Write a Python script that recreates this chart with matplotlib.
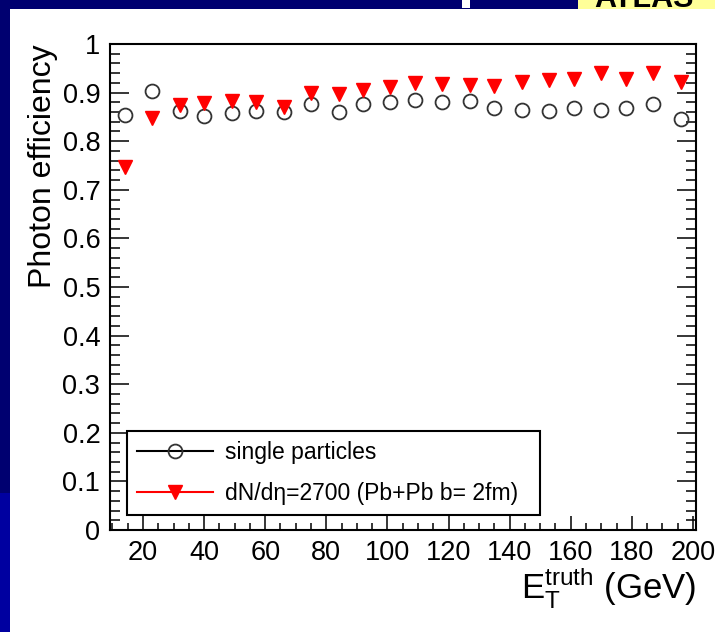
import numpy as np
import matplotlib
matplotlib.use('Agg')
import matplotlib.pyplot as plt
from matplotlib.lines import Line2D
from matplotlib.patches import Rectangle
from matplotlib.ticker import MultipleLocator, FuncFormatter

plt.rcParams['font.family'] = ['Liberation Sans', 'DejaVu Sans']
plt.rcParams['mathtext.fontset'] = 'custom'
plt.rcParams['mathtext.rm'] = 'Liberation Sans'

# E_T^truth bin centres (GeV)
et_truth = [14, 23, 32, 40, 49, 57, 66, 75, 84, 92, 101, 109,
            118, 127, 135, 144, 153, 161, 170, 178, 187, 196]
# efficiency, single particles
eff_single = [0.854, 0.903, 0.862, 0.852, 0.858, 0.862, 0.860, 0.877, 0.860, 0.877, 0.881, 0.885,
              0.881, 0.882, 0.868, 0.864, 0.862, 0.868, 0.864, 0.868, 0.877, 0.846]
# efficiency, embedded in Pb+Pb
eff_pbpb = [0.747, 0.848, 0.874, 0.879, 0.883, 0.881, 0.870, 0.899, 0.897, 0.905, 0.912, 0.920,
            0.918, 0.916, 0.914, 0.922, 0.926, 0.928, 0.940, 0.928, 0.940, 0.922]
label_single = 'single particles'
label_pbpb = 'dN/dη=2700 (Pb+Pb b= 2fm)'

W, H = 715, 632
navy = '#000070'
fig = plt.figure(figsize=(W / 100, H / 100), dpi=100, facecolor=navy)

# slide background bits
fig.patches.append(Rectangle((10 / W, 0), 1, 1 - 9 / H, transform=fig.transFigure,
                             facecolor='white', edgecolor='none', zorder=-10))
fig.patches.append(Rectangle((0, 0), 10 / W, (H - 493) / H, transform=fig.transFigure,
                             facecolor='#0000a0', edgecolor='none', zorder=-10))
fig.patches.append(Rectangle((578 / W, 1 - 9 / H), 1, 9 / H, transform=fig.transFigure,
                             facecolor='#ffff99', edgecolor='none', zorder=-9))
fig.patches.append(Rectangle((462 / W, 1 - 8 / H), 8 / W, 8 / H, transform=fig.transFigure,
                             facecolor='white', edgecolor='none', zorder=-9))
# title of the slide, only its lower edge shows
fig.text(594 / W, 1 - 7 / H, 'ATLAS', fontsize=22, fontweight='bold', color='black',
         ha='left', va='baseline')

ax = fig.add_axes([110 / W, (H - 530) / H, (696 - 110) / W, (530 - 44) / H])
ax.set_facecolor('white')

ax.plot(et_truth, eff_single, linestyle='none', marker='o', ms=10, mfc='none',
        mec='#333333', mew=1.3, zorder=3)
ax.plot(et_truth, eff_pbpb, linestyle='none', marker='v', ms=10.5, color='#ff0000',
        mec='#ff0000', zorder=4)

ax.set_xlim(9.2, 201)
ax.set_ylim(0, 1)

ax.xaxis.set_major_locator(MultipleLocator(20))
ax.xaxis.set_minor_locator(MultipleLocator(5))
ax.yaxis.set_major_locator(MultipleLocator(0.1))
ax.yaxis.set_minor_locator(MultipleLocator(0.02))
ax.yaxis.set_major_formatter(FuncFormatter(lambda v, p: '%g' % round(v, 2)))

ax.tick_params(axis='both', which='both', direction='in', width=1.1, color='black',
               labelsize=19.5, pad=7)
ax.tick_params(axis='y', which='both', left=True, right=True)
ax.tick_params(axis='x', which='both', bottom=True, top=False)
ax.tick_params(axis='y', which='major', length=14)
ax.tick_params(axis='y', which='minor', length=7)
ax.tick_params(axis='x', which='major', length=10)
ax.tick_params(axis='x', which='minor', length=5)
for s in ax.spines.values():
    s.set_linewidth(1.5)
    s.set_color('black')

ax.set_ylabel('Photon efficiency', fontsize=23, loc='top')
ax.yaxis.set_label_coords(-0.089, 1.0)
ax.set_xlabel(r'$\mathregular{E_{T}^{truth}}$ (GeV)', fontsize=25, loc='right')
ax.xaxis.set_label_coords(1.0, -0.072)

handles = [Line2D([], [], color='black', lw=1.5, marker='o', ms=10, mfc='none',
                  mec='#333333', mew=1.3),
           Line2D([], [], color='#ff0000', lw=1.5, marker='v', ms=10.5,
                  mfc='#ff0000', mec='#ff0000')]
leg = ax.legend(handles, [label_single, label_pbpb], loc='lower left',
                bbox_to_anchor=(0.029, 0.031, 0.705, 0.183), mode='expand',
                fontsize=16.5, frameon=True, fancybox=False, framealpha=1,
                edgecolor='black', borderpad=0.45, handlelength=3.3,
                handletextpad=0.52, labelspacing=0.75, borderaxespad=0)
leg.get_frame().set_linewidth(1.5)

fig.savefig('out.png', dpi=100, facecolor=navy)
